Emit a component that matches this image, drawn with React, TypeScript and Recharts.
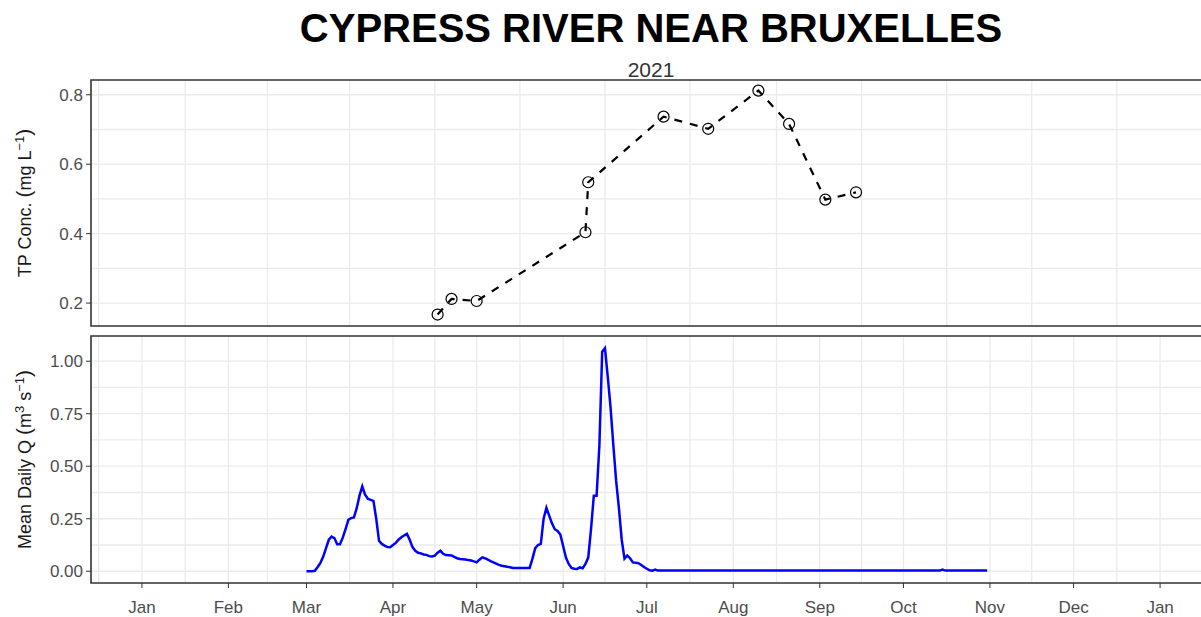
import { LineChart, Line, XAxis, YAxis, CartesianGrid, ReferenceArea } from "recharts";

// TP grab samples (mg/L)
const tpDates = [
  "2021-04-17", "2021-04-22", "2021-05-01", "2021-06-09", "2021-06-10", "2021-07-07",
  "2021-07-23", "2021-08-10", "2021-08-21", "2021-09-03", "2021-09-14",
];
const tpValues = [0.167, 0.212, 0.206, 0.404, 0.548, 0.737, 0.702, 0.812, 0.716, 0.498, 0.519];

// mean daily discharge (m3/s), one value per day from qStartDate
const qStartDate = "2021-03-01";
const qValues = [
  0, 0, 0, 0.002, 0.02, 0.04, 0.07, 0.11, 0.15, 0.165,
  0.158, 0.128, 0.128, 0.16, 0.2, 0.245, 0.253, 0.256, 0.3, 0.36,
  0.404, 0.365, 0.345, 0.34, 0.335, 0.25, 0.145, 0.13, 0.122, 0.115,
  0.114, 0.125, 0.135, 0.15, 0.162, 0.17, 0.178, 0.15, 0.115, 0.097,
  0.088, 0.085, 0.08, 0.078, 0.072, 0.07, 0.074, 0.088, 0.098, 0.083,
  0.077, 0.076, 0.075, 0.068, 0.062, 0.058, 0.057, 0.056, 0.053, 0.051,
  0.047, 0.042, 0.055, 0.066, 0.062, 0.055, 0.048, 0.042, 0.036, 0.03,
  0.026, 0.024, 0.021, 0.019, 0.016, 0.016, 0.016, 0.016, 0.016, 0.016,
  0.016, 0.06, 0.11, 0.125, 0.13, 0.25, 0.302, 0.265, 0.228, 0.2,
  0.192, 0.175, 0.12, 0.065, 0.035, 0.016, 0.012, 0.011, 0.018, 0.014,
  0.035, 0.065, 0.2, 0.36, 0.36, 0.6, 1.045, 1.062, 0.925, 0.78,
  0.6, 0.43, 0.3, 0.15, 0.06, 0.075, 0.062, 0.042, 0.04, 0.038,
  0.03, 0.02, 0.012, 0.004, 0.003, 0.008, 0.003, 0.003, 0.003, 0.003,
  0.003, 0.003, 0.003, 0.003, 0.003, 0.003, 0.003, 0.003, 0.003, 0.003,
  0.003, 0.003, 0.003, 0.003, 0.003, 0.003, 0.003, 0.003, 0.003, 0.003,
  0.003, 0.003, 0.003, 0.003, 0.003, 0.003, 0.003, 0.003, 0.003, 0.003,
  0.003, 0.003, 0.003, 0.003, 0.003, 0.003, 0.003, 0.003, 0.003, 0.003,
  0.003, 0.003, 0.003, 0.003, 0.003, 0.003, 0.003, 0.003, 0.003, 0.003,
  0.003, 0.003, 0.003, 0.003, 0.003, 0.003, 0.003, 0.003, 0.003, 0.003,
  0.003, 0.003, 0.003, 0.003, 0.003, 0.003, 0.003, 0.003, 0.003, 0.003,
  0.003, 0.003, 0.003, 0.003, 0.003, 0.003, 0.003, 0.003, 0.003, 0.003,
  0.003, 0.003, 0.003, 0.003, 0.003, 0.003, 0.003, 0.003, 0.003, 0.003,
  0.003, 0.003, 0.003, 0.003, 0.003, 0.003, 0.003, 0.003, 0.008, 0.003,
  0.003, 0.003, 0.003, 0.003, 0.003, 0.003, 0.003, 0.003, 0.003, 0.003,
  0.003, 0.003, 0.003, 0.003, 0.003,
];

const monthBreaks = [
  "2021-01-01", "2021-02-01", "2021-03-01", "2021-04-01", "2021-05-01", "2021-06-01", "2021-07-01",
  "2021-08-01", "2021-09-01", "2021-10-01", "2021-11-01", "2021-12-01", "2022-01-01",
];
const monthLabels = ["Jan", "Feb", "Mar", "Apr", "May", "Jun", "Jul", "Aug", "Sep", "Oct", "Nov", "Dec", "Jan"];

const tpTicks = [0.2, 0.4, 0.6, 0.8];
const tpGridLines = [0.2, 0.3, 0.4, 0.5, 0.6, 0.7, 0.8];
const qTicks = [0, 0.25, 0.5, 0.75, 1];
const qGridLines = [0, 0.125, 0.25, 0.375, 0.5, 0.625, 0.75, 0.875, 1];

const toDay = (s: string) => {
  const [y, m, d] = s.split("-").map(Number);
  return (Date.UTC(y, m - 1, d) - Date.UTC(2021, 0, 1)) / 86400000;
};

const monthTicks = monthBreaks.map(toDay);
const outerBreaks = [toDay("2020-12-01"), ...monthTicks, toDay("2022-02-01")];
const minorDays = outerBreaks.slice(1).map((d, i) => (d + outerBreaks[i]) / 2);
const xDomain = [-18.25, 383.25];
const gridDays = [...monthTicks, ...minorDays].filter((d) => d > xDomain[0] && d < xDomain[1]);

const tpDomain = [0.134, 0.8425];
const qDomain = [-0.056, 1.12];

const tpData = tpDates.map((d, i) => ({ day: toDay(d), tp: tpValues[i] }));
const qStart = toDay(qStartDate);
const qData = qValues.map((v, i) => ({ day: qStart + i, q: v }));

const FONT = "'Liberation Sans', Arial, Helvetica, sans-serif";

const TpTitle = (props: any) => {
  const { x, y, height } = props.viewBox;
  const cy = y + height / 2;
  return (
    <text transform={`translate(${x},${cy}) rotate(-90)`} textAnchor="middle" fontSize={18} fill="#1a1a1a" fontFamily={FONT}>
      TP Conc. <tspan fontSize={21}>(</tspan>mg L<tspan dy={-7} fontSize={13}>−1</tspan>
      <tspan dy={7} fontSize={21}>)</tspan>
    </text>
  );
};

const QTitle = (props: any) => {
  const { x, y, height } = props.viewBox;
  const cy = y + height / 2;
  return (
    <text transform={`translate(${x},${cy}) rotate(-90)`} textAnchor="middle" fontSize={18} fill="#1a1a1a" fontFamily={FONT}>
      Mean Daily Q <tspan fontSize={21}>(</tspan>m<tspan dy={-7} fontSize={13}>3</tspan>
      <tspan dy={7}> s</tspan>
      <tspan dy={-7} fontSize={13}>−1</tspan>
      <tspan dy={7} fontSize={21}>)</tspan>
    </text>
  );
};

const tickStyle = { fill: "#4d4d4d", fontSize: 17, fontFamily: FONT };

export default function App() {
  return (
    <div style={{ position: "absolute", left: 0, top: 0, width: 1201, height: 617, overflow: "hidden", background: "#fff" }}>
      <div style={{ position: "absolute", left: 0, top: 0 }}>
        <LineChart width={1230} height={330} data={tpData} margin={{ top: 80, right: 19, bottom: 4, left: 31 }}>
          <CartesianGrid stroke="#ebebeb" strokeWidth={1.3} verticalValues={gridDays} horizontalValues={tpGridLines} />
          <XAxis type="number" dataKey="day" domain={xDomain} allowDataOverflow hide />
          <YAxis
            type="number"
            domain={tpDomain}
            allowDataOverflow
            ticks={tpTicks}
            width={60}
            tickSize={5}
            tickMargin={3}
            axisLine={false}
            tickLine={{ stroke: "#333" }}
            tick={tickStyle}
            tickFormatter={(v: number) => v.toFixed(1)}
            label={TpTitle}
          />
          <ReferenceArea
            x1={xDomain[0]}
            x2={xDomain[1]}
            y1={tpDomain[0]}
            y2={tpDomain[1]}
            fill="none"
            stroke="#333"
            strokeWidth={1.6}
            ifOverflow="visible"
          />
          <Line
            type="linear"
            dataKey="tp"
            stroke="#000"
            strokeWidth={2.2}
            strokeDasharray="8 8"
            dot={{ r: 5.5, fill: "none", stroke: "#000", strokeWidth: 1.2, strokeDasharray: "none" }}
            activeDot={false}
            isAnimationActive={false}
          />
        </LineChart>
      </div>
      <div style={{ position: "absolute", left: 0, top: 330 }}>
        <LineChart width={1230} height={287} data={qData} margin={{ top: 6, right: 19, bottom: 4, left: 31 }}>
          <CartesianGrid stroke="#ebebeb" strokeWidth={1.3} verticalValues={gridDays} horizontalValues={qGridLines} />
          <XAxis
            type="number"
            dataKey="day"
            domain={xDomain}
            allowDataOverflow
            ticks={monthTicks}
            interval={0}
            height={30}
            tickSize={5}
            tickMargin={13}
            axisLine={false}
            tickLine={{ stroke: "#333" }}
            tick={tickStyle}
            tickFormatter={(d: number) => monthLabels[monthTicks.indexOf(d)]}
          />
          <YAxis
            type="number"
            domain={qDomain}
            allowDataOverflow
            ticks={qTicks}
            width={60}
            tickSize={5}
            tickMargin={3}
            axisLine={false}
            tickLine={{ stroke: "#333" }}
            tick={tickStyle}
            tickFormatter={(v: number) => v.toFixed(2)}
            label={QTitle}
          />
          <ReferenceArea
            x1={xDomain[0]}
            x2={xDomain[1]}
            y1={qDomain[0]}
            y2={qDomain[1]}
            fill="none"
            stroke="#333"
            strokeWidth={1.6}
            ifOverflow="visible"
          />
          <Line
            type="linear"
            dataKey="q"
            stroke="#0000ff"
            strokeWidth={2.5}
            dot={false}
            activeDot={false}
            isAnimationActive={false}
          />
        </LineChart>
      </div>
      <svg width={1201} height={90} style={{ position: "absolute", left: 0, top: 0 }}>
        <text x={651} y={42} textAnchor="middle" fontSize={40} fontWeight={700} fill="#000" fontFamily={FONT}>
          CYPRESS RIVER NEAR BRUXELLES
        </text>
        <text x={651} y={77} textAnchor="middle" fontSize={21} fill="#333" fontFamily={FONT}>
          2021
        </text>
      </svg>
    </div>
  );
}
